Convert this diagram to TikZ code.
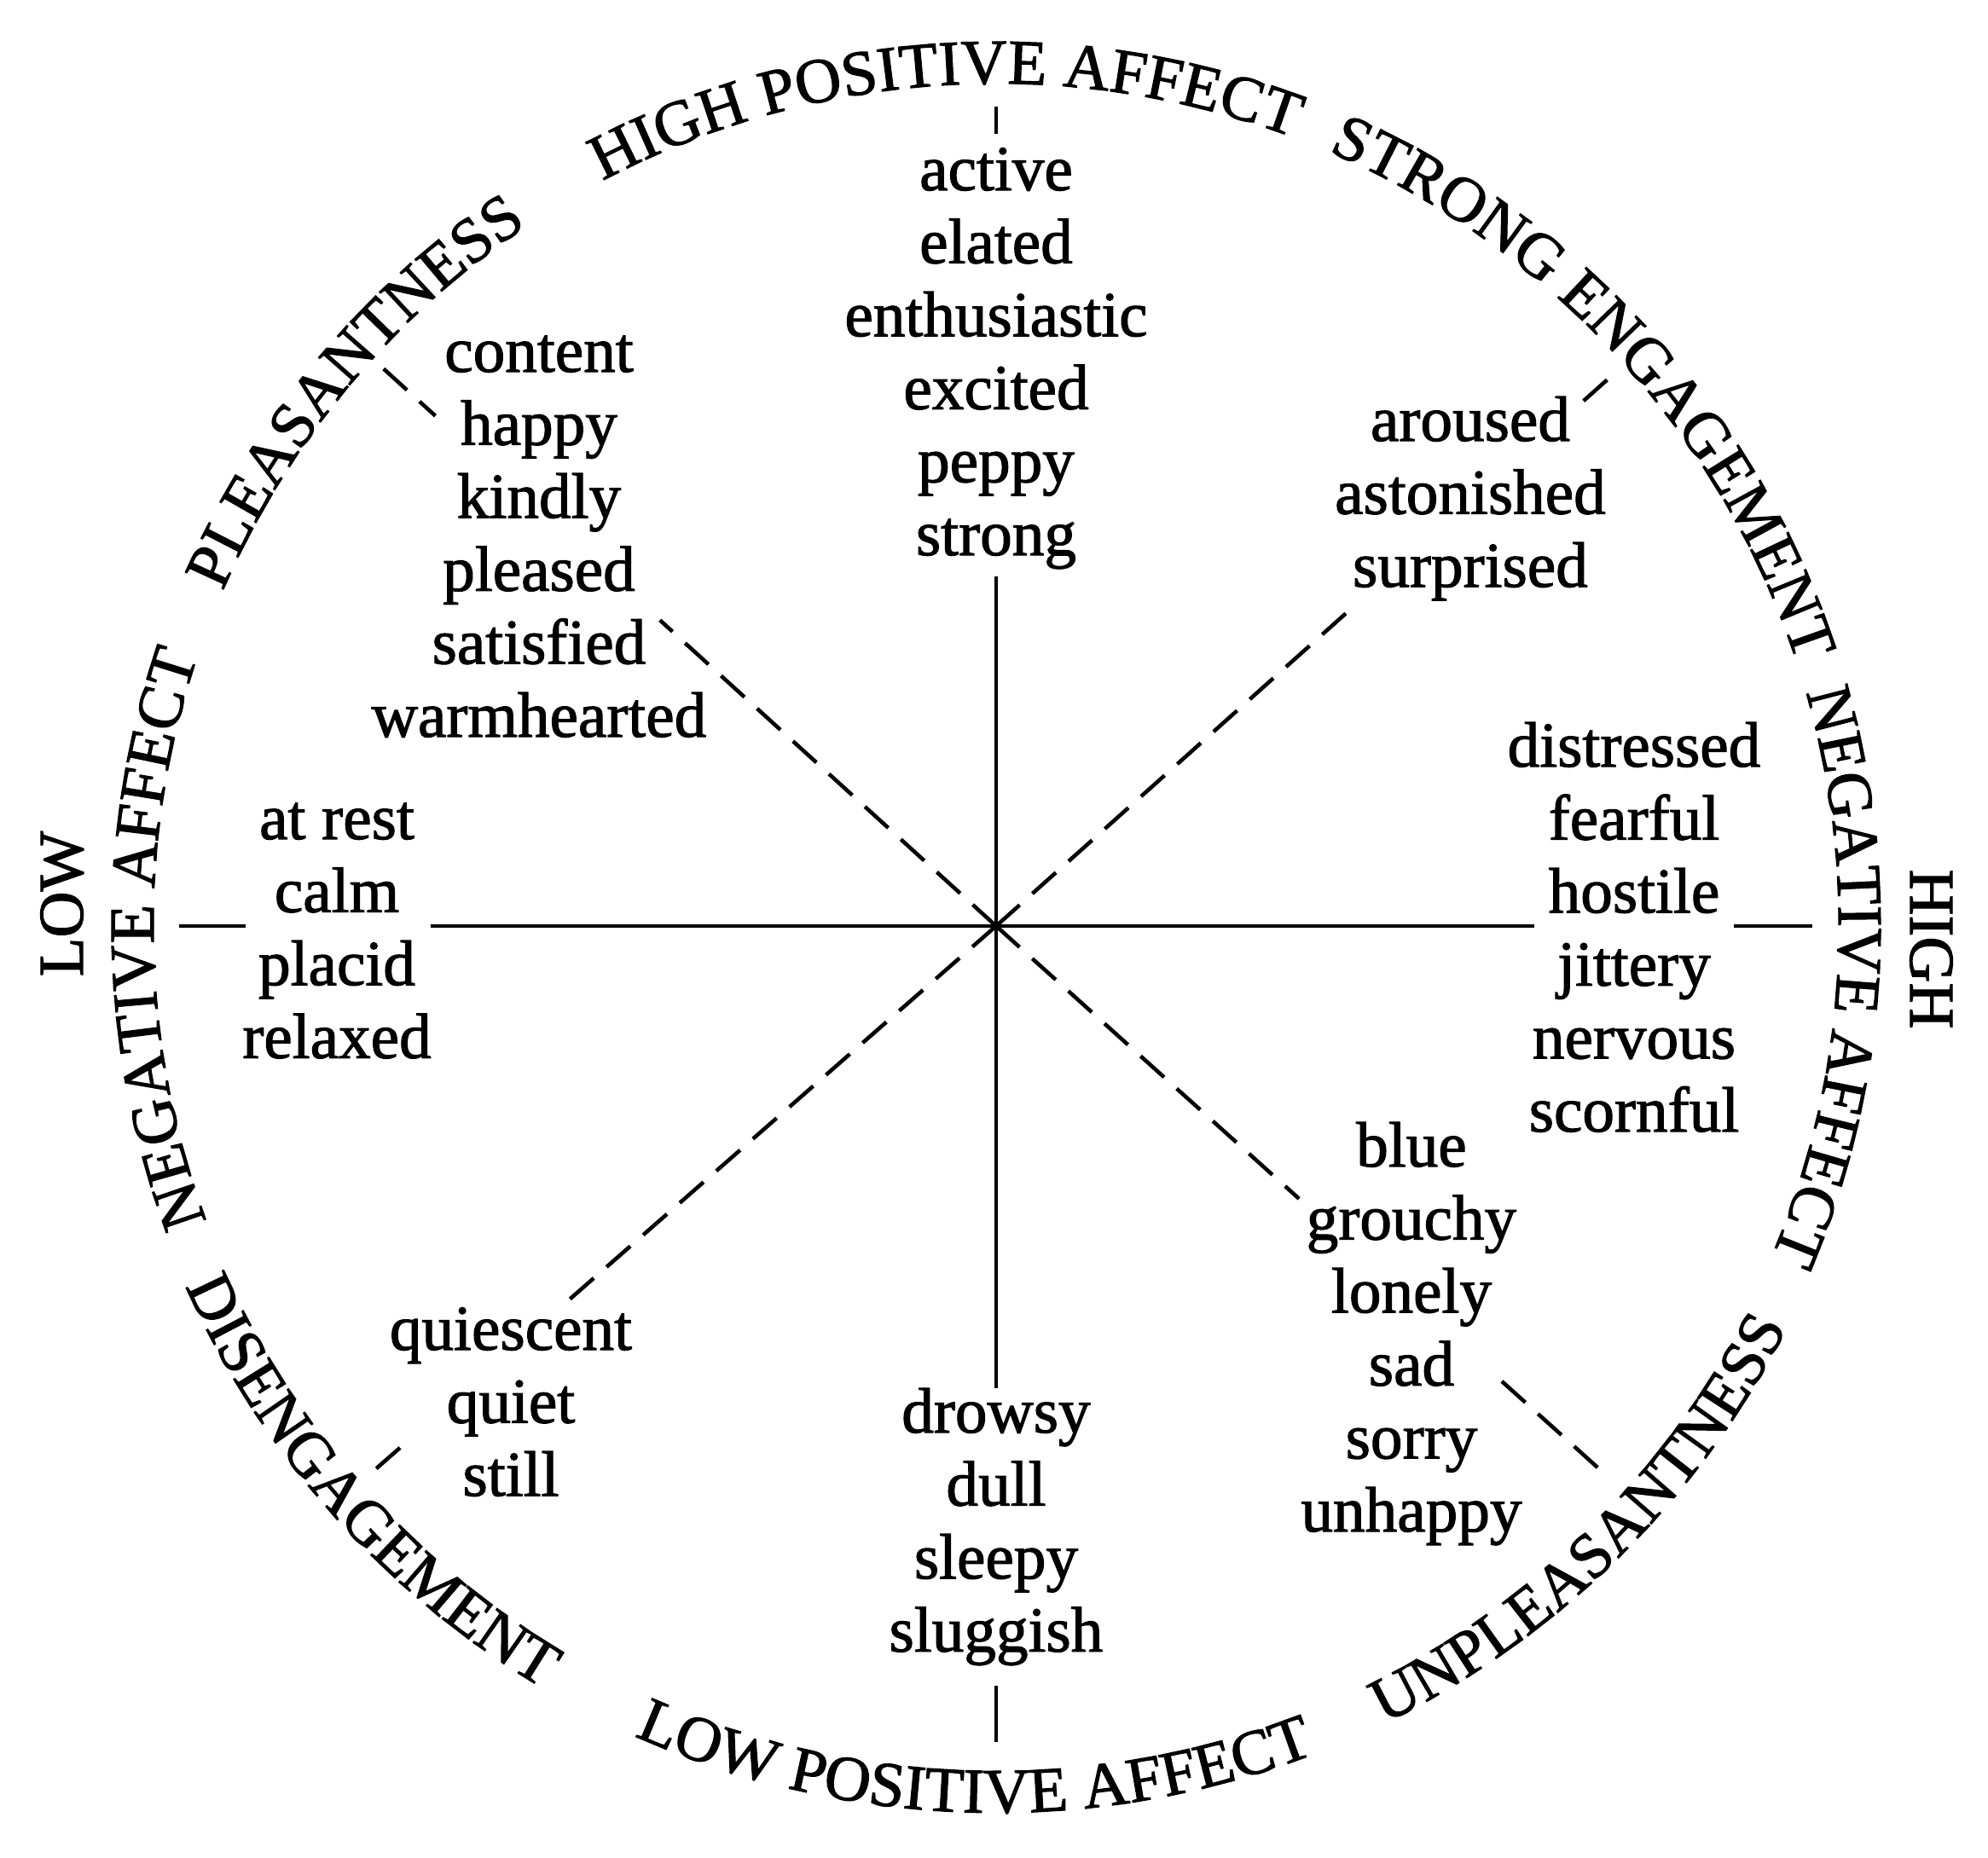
\documentclass[tikz,border=0pt]{standalone}
\usepackage{fontspec}
\setmainfont[FakeBold=1.5]{Liberation Serif}
\usetikzlibrary{decorations.text}
\newcommand\wordfont{\fontsize{21.4pt}{24.4pt}\selectfont}
\newcommand\capfont{\fontsize{21.3pt}{24pt}\selectfont}
\tikzset{
  word/.style={font=\wordfont, inner sep=0pt, anchor=base},
  caplab/.style={font=\capfont, inner sep=0pt, anchor=base},
  axisline/.style={line width=1.3pt},
  diagline/.style={line width=1.3pt, dash pattern=on 0.37cm off 0.2cm},
}
\newcommand\wordcol[4]{\foreach \w [count=\i] in {#4}{\node[word] (#1\i) at ({#2},{#3-(\i-1)*0.856}) {\w};}}
\newcommand\cwlabel[2]{\path[decorate, decoration={text along path, text={|\capfont|#2}, text align=center}]
  ({#1+45}:9.88) arc[start angle={#1+45}, end angle={#1-45}, radius=9.88];}
\newcommand\ccwlabel[2]{\path[decorate, decoration={text along path, text={|\capfont|#2}, text align=center}]
  ({#1-45}:10.4) arc[start angle={#1-45}, end angle={#1+45}, radius=10.4];}
\begin{document}
\begin{tikzpicture}
\useasboundingbox (-11.68,-10.92) rectangle (11.63,10.86);
\coordinate (c) at (0,0);
% word groups
\wordcol{pa}{0}{8.63}{active,elated,enthusiastic,excited,peppy,strong}
\wordcol{pl}{-5.36}{6.50}{content,happy,kindly,pleased,satisfied,warmhearted}
\wordcol{se}{5.56}{5.69}{aroused,astonished,surprised}
\wordcol{ln}{-7.73}{1.02}{at rest,calm,placid,relaxed}
\wordcol{hn}{7.48}{1.87}{distressed,fearful,hostile,jittery,nervous,scornful}
\wordcol{up}{4.87}{-2.82}{blue,grouchy,lonely,sad,sorry,unhappy}
\wordcol{de}{-5.69}{-4.97}{quiescent,quiet,still}
\wordcol{lp}{0}{-5.94}{drowsy,dull,sleepy,sluggish}
% line end points
\coordinate (t1) at (0,4.10);  \coordinate (t2) at (0,9.29);  \coordinate (t3) at (0,9.61);
\coordinate (b1) at (0,-5.42); \coordinate (b2) at (0,-8.91); \coordinate (b3) at (0,-9.57);
\coordinate (l1) at (-6.63,0); \coordinate (l2) at (-8.80,0); \coordinate (l3) at (-9.58,0);
\coordinate (r1) at (6.31,0);  \coordinate (r2) at (8.65,0);  \coordinate (r3) at (9.57,0);
\coordinate (nw1) at (137.7:5.33); \coordinate (nw2) at (137.7:8.89); \coordinate (nw3) at (137.7:9.71);
\coordinate (ne1) at (41.8:5.60);  \coordinate (ne2) at (41.8:9.24);  \coordinate (ne3) at (41.8:9.61);
\coordinate (sw1) at (221.2:6.64); \coordinate (sw2) at (221.2:9.10); \coordinate (sw3) at (221.2:9.66);
\coordinate (se1) at (-42:4.78);   \coordinate (se2) at (-42:7.98);   \coordinate (se3) at (-42:9.62);
% solid axes
\draw[axisline] (c) -- (t1); \draw[axisline] (t2) -- (t3);
\draw[axisline] (c) -- (b1); \draw[axisline] (b2) -- (b3);
\draw[axisline] (c) -- (l1); \draw[axisline] (l2) -- (l3);
\draw[axisline] (c) -- (r1); \draw[axisline] (r2) -- (r3);
% dashed diagonals
\draw[diagline] (c) -- (nw1); \draw[diagline] (nw3) -- (nw2);
\draw[diagline] (c) -- (ne1); \draw[diagline] (ne3) -- (ne2);
\draw[diagline] (c) -- (sw1); \draw[diagline] (sw3) -- (sw2);
\draw[diagline] (c) -- (se1); \draw[diagline] (se2) -- (se3);
% outer labels
\cwlabel{93.6}{HIGH POSITIVE AFFECT}
\cwlabel{42.5}{STRONG ENGAGEMENT}
\cwlabel{-3.5}{NEGATIVE AFFECT}
\ccwlabel{-45.5}{UNPLEASANTNESS}
\ccwlabel{268.5}{LOW POSITIVE AFFECT}
\ccwlabel{221.6}{DISENGAGEMENT}
\cwlabel{180.9}{NEGATIVE AFFECT}
\cwlabel{140.2}{PLEASANTNESS}
\node[caplab, rotate=-90] (high) at (10.72,-0.27) {HIGH};
\node[caplab, rotate=90] (low) at (-10.71,0.26) {LOW};
\end{tikzpicture}
\end{document}
